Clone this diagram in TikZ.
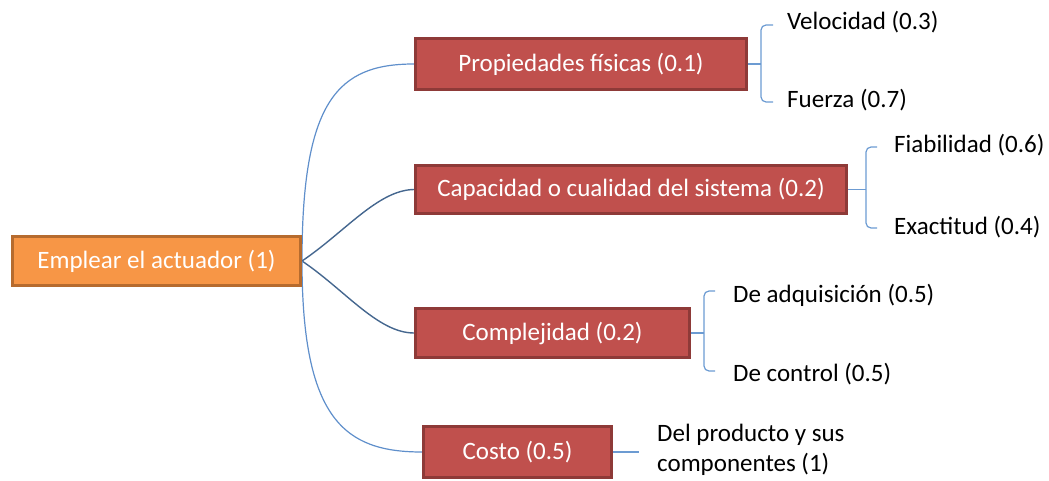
\documentclass[tikz,border=0pt]{standalone}
\usepackage{fontspec}
\setmainfont{Carlito}
\usetikzlibrary{backgrounds}
\definecolor{orfill}{HTML}{F79646}
\definecolor{ordraw}{HTML}{B66B2E}
\definecolor{rdfill}{HTML}{C0504D}
\definecolor{rddraw}{HTML}{8E3A38}
\definecolor{linklt}{HTML}{5F8FCB}
\definecolor{linkdk}{HTML}{45678F}
\definecolor{bracec}{HTML}{6C9BD2}
\tikzset{
  rootbox/.style={draw=ordraw, fill=orfill, line width=3pt, text=white, inner sep=0pt, font=\fontsize{25}{30}\selectfont},
  catbox/.style={draw=rddraw, fill=rdfill, line width=3pt, text=white, inner sep=0pt, font=\fontsize{25}{30}\selectfont},
  leaf/.style={anchor=base west, inner sep=0pt, text=black, font=\fontsize{25}{30}\selectfont},
  linkout/.style={draw=linklt, line width=1.2pt},
  linkin/.style={draw=linkdk, line width=1.4pt},
  bracel/.style={draw=bracec, line width=1.2pt, rounded corners=5pt},
}
\begin{document}
\begin{tikzpicture}[x=1pt,y=-1pt]
\useasboundingbox (0,0) rectangle (1049,481);
% boxes
\node[rootbox, minimum width=288pt, minimum height=49pt] (root) at (156.5,261) {Emplear el actuador (1)};
\node[catbox, minimum width=331pt, minimum height=51pt] (prop) at (581,64) {Propiedades físicas (0.1)};
\node[catbox, minimum width=431pt, minimum height=48pt] (cap) at (631,189.5) {Capacidad o cualidad del sistema (0.2)};
\node[catbox, minimum width=274pt, minimum height=49pt] (comp) at (552.5,333) {Complejidad (0.2)};
\node[catbox, minimum width=188pt, minimum height=51pt] (cost) at (517.5,452) {Costo (0.5)};
% leaves
\node[leaf] (vel) at (787,30) {Velocidad (0.3)};
\node[leaf] (fue) at (787,108) {Fuerza (0.7)};
\node[leaf] (fia) at (894,153) {Fiabilidad (0.6)};
\node[leaf] (exa) at (894,234) {Exactitud (0.4)};
\node[leaf] (adq) at (733,302) {De adquisición (0.5)};
\node[leaf] (con) at (733,381) {De control (0.5)};
\node[leaf, align=left, anchor=north west] (del) at (657,424) {Del producto y sus\\componentes (1)};
% brace coordinates
\coordinate (pb) at (761,64);
\coordinate (pt) at (773,25);
\coordinate (pbt) at (773,102);
\coordinate (cb) at (866,189.5);
\coordinate (ct) at (877,147);
\coordinate (cbt) at (877,228);
\coordinate (mb) at (704,333);
\coordinate (mt) at (715,291);
\coordinate (mbt) at (715,371);
\coordinate (kb) at (639,452);
\begin{scope}[on background layer]
\draw[linkout] (root.east) .. controls (302,100) and (338,64) .. (prop.west);
\draw[linkin] (root.east) .. controls (345,232) and (378,190) .. (cap.west);
\draw[linkin] (root.east) .. controls (345,290) and (378,333) .. (comp.west);
\draw[linkout] (root.east) .. controls (302,420) and (345,452) .. (cost.west);
\end{scope}
% braces
\draw[bracel] (prop.east) -- (pb);
\draw[bracel] (pt) -- (pt -| pb) -- (pbt -| pb) -- (pbt);
\draw[bracel] (cap.east) -- (cb);
\draw[bracel] (ct) -- (ct -| cb) -- (cbt -| cb) -- (cbt);
\draw[bracel] (comp.east) -- (mb);
\draw[bracel] (mt) -- (mt -| mb) -- (mbt -| mb) -- (mbt);
\draw[bracel] (cost.east) -- (kb);
\end{tikzpicture}
\end{document}
